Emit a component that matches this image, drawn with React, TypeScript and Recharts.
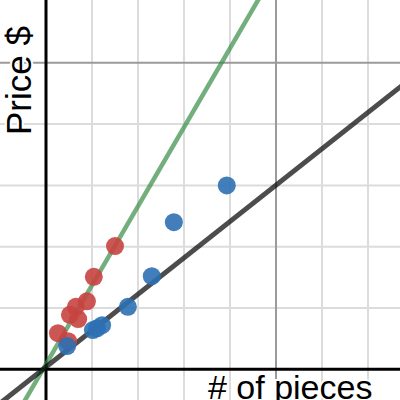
import { ComposedChart, Scatter, XAxis, YAxis, ReferenceLine } from 'recharts';

// view window (graph units)
const xDomain = [-1, 7.696];
const yDomain = [-0.5, 6.024];

// grid lines
const xMinorGrid = [1, 2, 3, 4, 6, 7];
const xMajorGrid = [5];
const yMinorGrid = [1, 2, 3, 4];
const yMajorGrid = [5];

// points
const redX = [0.26, 0.48, 0.52, 0.7, 0.65, 0.89, 1.04, 1.5];
const redY = [0.59, 0.46, 0.89, 0.82, 1.02, 1.11, 1.51, 2.01];
const blueX = [0.46, 1.02, 1.11, 1.22, 1.78, 2.3, 2.78, 3.93];
const blueY = [0.38, 0.64, 0.67, 0.72, 1.02, 1.52, 2.4, 3.0];

// fitted lines: y = slope * x + intercept
const greenFit = { slope: 1.288, intercept: 0.084 };
const blackFit = { slope: 0.593, intercept: 0.039 };

const redData = redX.map((x, i) => ({ x, y: redY[i] }));
const blueData = blueX.map((x, i) => ({ x, y: blueY[i] }));

const segment = (fit: { slope: number; intercept: number }) => [
  { x: -2, y: fit.slope * -2 + fit.intercept },
  { x: 9, y: fit.slope * 9 + fit.intercept },
];

const dot = (color: string) => (props: any) => (
  <circle cx={props.cx} cy={props.cy} r={9} fill={color} fillOpacity={0.9} />
);

const labelFont = '"Liberation Sans", Arial, sans-serif';

export default function App() {
  return (
    <div style={{ position: 'absolute', left: 0, top: 0, width: 400, height: 400, background: '#fff' }}>
      <ComposedChart width={400} height={400} margin={{ top: 0, right: 0, bottom: 0, left: 0 }}>
        <XAxis type="number" dataKey="x" domain={xDomain} allowDataOverflow hide />
        <YAxis type="number" dataKey="y" domain={yDomain} allowDataOverflow hide />

        {xMinorGrid.map((v) => (
          <ReferenceLine key={'xm' + v} x={v} stroke="#dcdcdc" strokeWidth={2} />
        ))}
        {yMinorGrid.map((v) => (
          <ReferenceLine key={'ym' + v} y={v} stroke="#dcdcdc" strokeWidth={2} />
        ))}
        {xMajorGrid.map((v) => (
          <ReferenceLine key={'xM' + v} x={v} stroke="#9a9a9a" strokeWidth={2} />
        ))}
        {yMajorGrid.map((v) => (
          <ReferenceLine key={'yM' + v} y={v} stroke="#9a9a9a" strokeWidth={2} />
        ))}
        <ReferenceLine x={0} stroke="#000" strokeWidth={3} />
        <ReferenceLine y={0} stroke="#000" strokeWidth={3} />

        <Scatter data={redData} shape={dot('#c74440')} isAnimationActive={false} />
        <ReferenceLine segment={segment(greenFit)} stroke="#388c46" strokeOpacity={0.7} strokeWidth={4.5} ifOverflow="hidden" />
        <ReferenceLine segment={segment(blackFit)} stroke="#000" strokeOpacity={0.7} strokeWidth={5} ifOverflow="hidden" />
        <Scatter data={blueData} shape={dot('#2d70b3')} isAnimationActive={false} />
      </ComposedChart>
      <svg width={400} height={400} style={{ position: 'absolute', left: 0, top: 0, pointerEvents: 'none' }}>
        <text
          x={31}
          y={135}
          transform="rotate(-90, 31, 135)"
          fontFamily={labelFont}
          fontSize={35}
          fill="#000"
          stroke="#fff"
          strokeWidth={4}
          paintOrder="stroke"
        >
          Price $
        </text>
        <text
          x={208}
          y={399}
          fontFamily={labelFont}
          fontSize={34}
          fill="#000"
          stroke="#fff"
          strokeWidth={4}
          paintOrder="stroke"
        >
          # of pieces
        </text>
      </svg>
    </div>
  );
}
